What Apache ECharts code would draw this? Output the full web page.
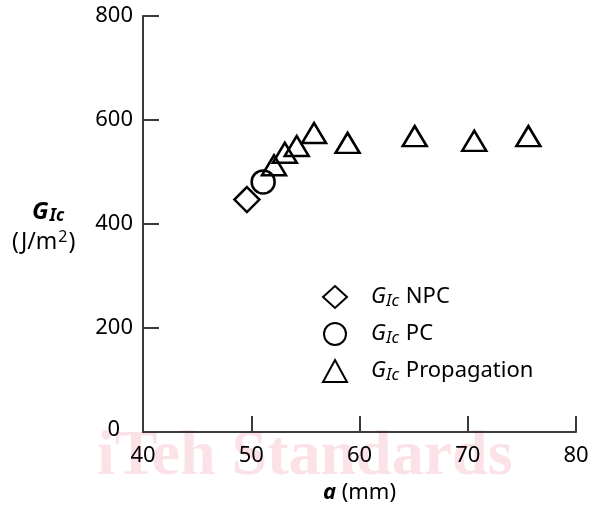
<!DOCTYPE html>
<html>
<head>
<meta charset="utf-8">
<script src="https://cdn.jsdelivr.net/npm/echarts@6/dist/echarts.min.js"></script>
<style>
  html, body { margin: 0; padding: 0; background: #fff; }
  #main { width: 592px; height: 506px; }
</style>
</head>
<body>
<div id="main"></div>
<script>
// crack length a (mm) vs G_Ic (J/m^2)
var npcA = [49.6];
var npcG = [447];
var pcA = [51.1];
var pcG = [481];
var propA = [52.1, 53.1, 54.2, 55.8, 58.9, 65.1, 70.6, 75.6];
var propG = [513, 537, 550, 575, 556, 569, 560, 569];
var xTicks = [40, 50, 60, 70, 80];
var yTicks = [0, 200, 400, 600, 800];
var seriesNames = ['NPC', 'PC', 'Propagation'];

var FONT = 'Noto Sans';
var INK = '#000';
var AXIS = '#3a3a3a';

function pairs(xs, ys) {
  return xs.map(function (x, i) { return [x, ys[i]]; });
}

var markStyle = {
  color: 'rgba(0,0,0,0)',
  borderColor: INK,
  borderWidth: 2.5,
  opacity: 1
};

var option = {
  animation: false,
  backgroundColor: '#fff',
  grid: { left: 143, right: 16, top: 16, bottom: 74, outerBoundsMode: 'none', containLabel: false },
  xAxis: {
    type: 'value',
    min: xTicks[0],
    max: xTicks[xTicks.length - 1],
    interval: 10,
    name: '{b|a} (mm)',
    nameLocation: 'middle',
    nameGap: 50,
    nameTextStyle: {
      color: INK, fontFamily: FONT, fontSize: 22,
      rich: { b: { fontWeight: 'bold', fontStyle: 'italic', fontFamily: FONT, fontSize: 22, color: INK } }
    },
    axisLine: { lineStyle: { color: AXIS, width: 2 } },
    axisTick: { inside: true, length: 16, lineStyle: { color: AXIS, width: 2 } },
    axisLabel: { color: INK, fontFamily: FONT, fontSize: 22, margin: 13 },
    splitLine: { show: false }
  },
  yAxis: {
    type: 'value',
    min: yTicks[0],
    max: yTicks[yTicks.length - 1],
    interval: 200,
    axisLine: { show: true, lineStyle: { color: AXIS, width: 2 } },
    axisTick: { show: true, inside: true, length: 16, lineStyle: { color: AXIS, width: 2 } },
    axisLabel: {
      color: INK, fontFamily: FONT, fontSize: 22, margin: 10,
      formatter: function (v) { return v === 0 ? '{z|0}' : String(v); },
      rich: { z: { fontFamily: FONT, fontSize: 22, color: INK, padding: [0, 13, 4, 0] } }
    },
    splitLine: { show: false }
  },
  legend: {
    orient: 'vertical',
    left: 317,
    top: 279,
    itemWidth: 24,
    itemHeight: 22,
    itemGap: 11,
    formatter: function (n) { return '{g|G}{s|Ic} ' + n; },
    textStyle: {
      color: INK, fontFamily: FONT, fontSize: 22, padding: [0, 0, 0, 19], lineHeight: 24,
      rich: {
        g: { fontStyle: 'italic', fontFamily: FONT, fontSize: 22, color: INK, lineHeight: 24 },
        s: { fontStyle: 'italic', fontFamily: FONT, fontSize: 17, color: INK, padding: [9, 1, 0, 0], lineHeight: 24 }
      }
    },
    data: seriesNames
  },
  graphic: [
    {
      type: 'text', left: 97, top: 425, z: -10, silent: true,
      style: { text: 'iTeh Standards', fill: '#fbe2e7', font: 'bold 64px "Liberation Serif", serif' }
    },
    {
      type: 'text', left: 32, top: 199,
      style: {
        text: '{g|G}{s|Ic}',
        rich: {
          g: { fontFamily: FONT, fontSize: 24, fontWeight: 'bold', fontStyle: 'italic', fill: INK, lineHeight: 26 },
          s: { fontFamily: FONT, fontSize: 17, fontWeight: 'bold', fontStyle: 'italic', fill: INK, padding: [9, 0, 0, 1], lineHeight: 26 }
        }
      }
    },
    {
      type: 'text', left: 12, top: 229,
      style: {
        text: '(J/m{u|2})',
        font: '23px "Noto Sans"', fill: INK,
        rich: {
          u: { fontFamily: FONT, fontSize: 16, fill: INK, padding: [0, 1, 11, 1] }
        }
      }
    }
  ],
  series: [
    {
      name: seriesNames[0], type: 'scatter', symbol: 'diamond', symbolSize: [25, 25],
      itemStyle: markStyle, data: pairs(npcA, npcG)
    },
    {
      name: seriesNames[1], type: 'scatter', symbol: 'circle', symbolSize: 23,
      itemStyle: markStyle, data: pairs(pcA, pcG)
    },
    {
      name: seriesNames[2], type: 'scatter', symbol: 'triangle', symbolSize: [24, 20],
      itemStyle: markStyle, data: pairs(propA, propG)
    }
  ]
};

var myChart = echarts.init(document.getElementById('main'));
myChart.setOption(option);
</script>
</body>
</html>
